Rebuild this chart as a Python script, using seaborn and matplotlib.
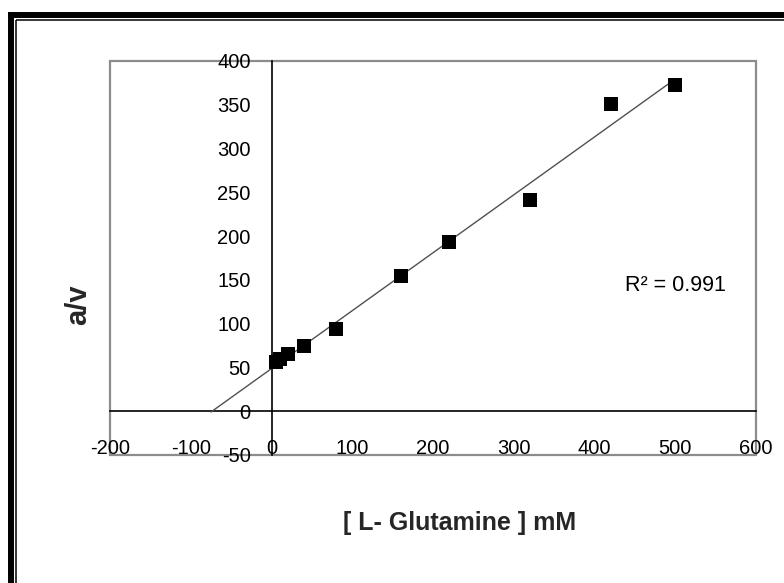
import numpy as np
import pandas as pd
import seaborn as sns
import matplotlib
matplotlib.use("Agg")
import matplotlib.pyplot as plt
from matplotlib.patches import Rectangle
from matplotlib.lines import Line2D

# ---- data ----
glutamine_mM = [5, 10, 20, 40, 80, 160, 220, 320, 420, 500]
a_over_v = [56, 60, 65, 74, 94, 154, 193, 241, 351, 373]
x_ticks = [-200, -100, 0, 100, 200, 300, 400, 500, 600]
y_ticks = [-50, 0, 50, 100, 150, 200, 250, 300, 350, 400]
r2_label = "R\u00b2 = 0.991"
x_label = "[ L- Glutamine ] mM"
y_label = "a/v"
backward_forecast = 80

df = pd.DataFrame({"x": glutamine_mM, "y": a_over_v})

sns.set_style("white")
plt.rcParams["font.family"] = ["Liberation Sans", "DejaVu Sans"]

W, H = 784, 583
fig = plt.figure(figsize=(W / 100, H / 100), dpi=100)

def fx(px):
    return px / W

def fy(py):
    return 1 - py / H

# axes: plot area box from x=110..756, y=61..455 px
ax = fig.add_axes([fx(110), fy(455), fx(756) - fx(110), fy(61) - fy(455)])
ax.set_facecolor("white")

# trend line (linear fit of the data, with backward forecast)
slope, intercept = np.polyfit(df["x"], df["y"], 1)
tx = np.array([df["x"].min() - backward_forecast, df["x"].max()])
trend = pd.DataFrame({"x": tx, "y": slope * tx + intercept})
sns.lineplot(data=trend, x="x", y="y", ax=ax, color="#505050", linewidth=1.0, zorder=2)

sns.scatterplot(data=df, x="x", y="y", ax=ax, marker="s", color="black",
                s=112, edgecolor="black", linewidth=0, zorder=3)

ax.set_xlim(-200, 600)
ax.set_ylim(-50, 400)
ax.set_xticks(x_ticks)
ax.set_yticks(y_ticks)
ax.set_xticklabels([str(v) for v in x_ticks])
ax.set_yticklabels([str(v) for v in y_ticks])
ax.set_xlabel("")
ax.set_ylabel("")

for s in ["top", "right"]:
    ax.spines[s].set_visible(False)
ax.spines["left"].set_position(("data", 0))
ax.spines["bottom"].set_position(("data", 0))
for s in ["left", "bottom"]:
    ax.spines[s].set_color("black")
    ax.spines[s].set_linewidth(1.2)
    ax.spines[s].set_zorder(1)

ax.tick_params(axis="x", direction="out", length=5, width=1.2, color="black",
               pad=15, labelsize=14.5, labelcolor="black")
ax.tick_params(axis="y", direction="out", length=5, width=1.2, color="black",
               pad=10, labelsize=14.5, labelcolor="black")

# plot-area gray frame
ax.add_patch(Rectangle((0, 0), 1, 1, transform=ax.transAxes, fill=False,
                       edgecolor="#8c8c8c", linewidth=1.6, clip_on=False, zorder=0.5))

ax.text(500, 144, r2_label, ha="center", va="center", fontsize=15.5, color="black")

fig.text(fx(460), fy(523), x_label, ha="center", va="center",
         fontsize=18, fontweight="bold")
fig.text(fx(78), fy(305), y_label, ha="center", va="center",
         fontsize=21, fontweight="bold", rotation=90)

# outer double frame (top and left visible)
fig.add_artist(Line2D([fx(8), 1.05], [fy(15), fy(15)], transform=fig.transFigure,
                      color="black", linewidth=4.3, solid_capstyle="butt"))
fig.add_artist(Line2D([fx(11), fx(11)], [fy(12), -0.05], transform=fig.transFigure,
                      color="black", linewidth=4.3, solid_capstyle="butt"))
fig.add_artist(Line2D([fx(15.5), 1.05], [fy(19.8), fy(19.8)], transform=fig.transFigure,
                      color="black", linewidth=1.1, solid_capstyle="butt"))
fig.add_artist(Line2D([fx(15.8), fx(15.8)], [fy(19.5), -0.05], transform=fig.transFigure,
                      color="black", linewidth=1.1, solid_capstyle="butt"))

fig.savefig("out.png", dpi=100)
